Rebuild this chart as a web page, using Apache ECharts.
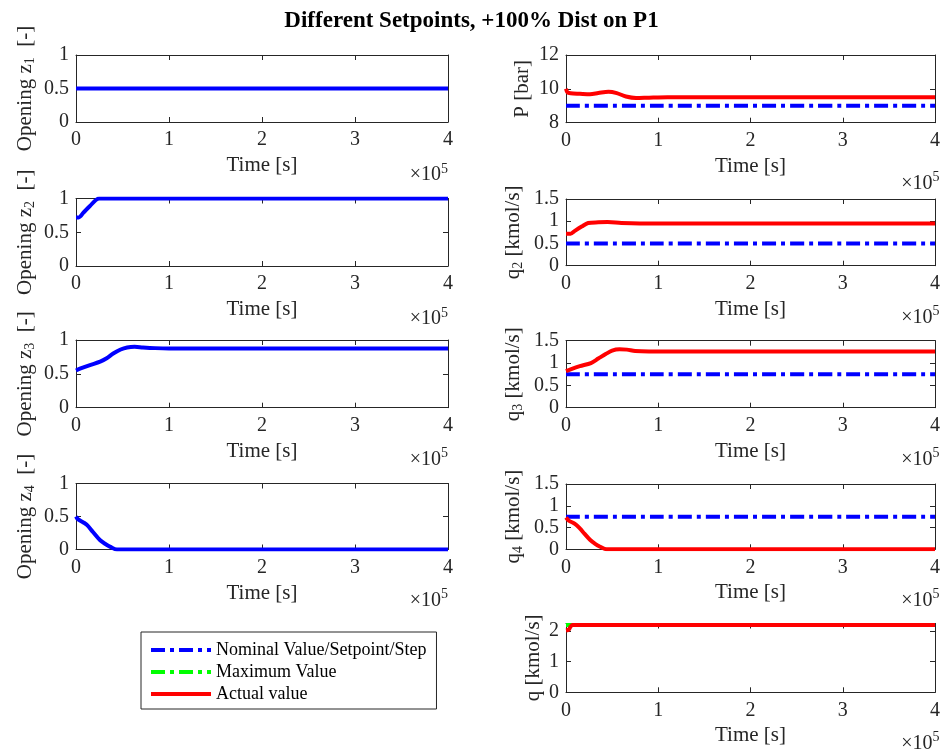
<!DOCTYPE html>
<html>
<head>
<meta charset="utf-8">
<script src="https://cdn.jsdelivr.net/npm/echarts@6/dist/echarts.min.js"></script>
<style>
  html, body { margin: 0; padding: 0; background: #fff; }
  #chart { width: 943px; height: 751px; }
</style>
</head>
<body>
<div id="chart"></div>
<script>
// ---- Data (time in seconds) ----
const timeTickLabels = ['0', '1', '2', '3', '4'];
const tConst = [0, 400000];

// Valve openings
const z1 = [0.5, 0.5];
const tZ2 = [0, 3000, 8000, 15000, 25000, 400000];
const z2 = [0.72, 0.72, 0.79, 0.89, 1.0, 1.0];
const tZ3 = [0, 5000, 15000, 26000, 33000, 40000, 48000, 55000, 63000, 72000, 85000, 100000, 400000];
const z3 = [0.55, 0.58, 0.63, 0.68, 0.73, 0.80, 0.86, 0.89, 0.90, 0.89, 0.88, 0.875, 0.875];
const tZ4 = [0, 2000, 8000, 12000, 18000, 26000, 32000, 37000, 44000, 400000];
const z4 = [0.5, 0.46, 0.41, 0.37, 0.27, 0.14, 0.08, 0.04, 0, 0];

// Pressure
const pNominal = [9, 9];
const tP = [0, 1500, 5000, 15000, 26000, 35000, 46000, 55000, 65000, 76000, 90000, 110000, 400000];
const pActual = [10.0, 9.8, 9.74, 9.71, 9.68, 9.75, 9.83, 9.75, 9.55, 9.46, 9.48, 9.5, 9.5];

// Branch flows
const q2Nominal = [0.5, 0.5];
const tQ2 = [0, 5000, 10000, 17000, 24000, 35000, 45000, 60000, 80000, 400000];
const q2Actual = [0.72, 0.72, 0.79, 0.88, 0.96, 0.975, 0.98, 0.96, 0.95, 0.95];
const q3Nominal = [0.75, 0.75];
const tQ3 = [0, 5000, 15000, 27000, 35000, 43000, 50000, 58000, 66000, 75000, 90000, 400000];
const q3Actual = [0.82, 0.86, 0.93, 1.0, 1.1, 1.2, 1.28, 1.31, 1.3, 1.27, 1.26, 1.26];
const q4Nominal = [0.75, 0.75];
const tQ4 = [0, 3000, 10000, 15000, 20000, 26000, 32000, 37000, 44000, 400000];
const q4Actual = [0.73, 0.66, 0.58, 0.48, 0.36, 0.22, 0.12, 0.06, 0, 0];

// Total flow
const qMaximum = [2.2, 2.2];
const tQ = [0, 3000, 5000, 7000, 400000];
const qActual = [2.02, 2.05, 2.15, 2.2, 2.2];

const legendNames = ['Nominal Value/Setpoint/Step', 'Maximum Value', 'Actual value'];

// ---- Styling ----
const FONT = 'Liberation Serif';
const AX = '#262626';
const BLUE = '#0000ff', GREEN = '#00ff00', RED = '#ff0000';
const DASHDOT = [14, 5, 4, 5];

const pts = (t, v) => t.map((x, i) => [x, v[i]]);

const nameRich = {
  n: { fontFamily: FONT, fontSize: 21, color: AX },
  s: { fontFamily: FONT, fontSize: 14, color: AX, padding: [9, 0, 0, 0] }
};

// Panel layout: grid box, y range, y label
const panels = [
  { box: [76, 55, 372, 67], y: [0, 1, 0.5], name: '{n|Opening z}{s|1}{n|  [-]}', gap: 39, xk: 52,
    series: [{ name: 'z1', data: pts(tConst, z1), color: BLUE }] },
  { box: [76, 198.5, 372, 67.5], y: [0, 1, 0.5], name: '{n|Opening z}{s|2}{n|  [-]}', gap: 39, xk: 52,
    series: [{ name: 'z2', data: pts(tZ2, z2), color: BLUE }] },
  { box: [76, 340, 372, 67.7], y: [0, 1, 0.5], name: '{n|Opening z}{s|3}{n|  [-]}', gap: 39, xk: 51,
    series: [{ name: 'z3', data: pts(tZ3, z3), color: BLUE }] },
  { box: [76, 483.5, 372, 66], y: [0, 1, 0.5], name: '{n|Opening z}{s|4}{n|  [-]}', gap: 39, xk: 50,
    series: [{ name: 'z4', data: pts(tZ4, z4), color: BLUE }] },
  { box: [566, 55, 373.5, 67.7], y: [8, 12, 2], name: '{n|P [bar]}', gap: 33, xk: 60,
    series: [
      { name: legendNames[0], data: pts(tConst, pNominal), color: BLUE, dash: true },
      { name: legendNames[2], data: pts(tP, pActual), color: RED }] },
  { box: [566, 199, 373.5, 66.7], y: [0, 1.5, 0.5], name: '{n|q}{s|2}{n| [kmol/s]}', gap: 41, xk: 51,
    series: [
      { name: legendNames[0], data: pts(tConst, q2Nominal), color: BLUE, dash: true },
      { name: legendNames[2], data: pts(tQ2, q2Actual), color: RED }] },
  { box: [566, 340.7, 373.5, 67], y: [0, 1.5, 0.5], name: '{n|q}{s|3}{n| [kmol/s]}', gap: 41, xk: 51,
    series: [
      { name: legendNames[0], data: pts(tConst, q3Nominal), color: BLUE, dash: true },
      { name: legendNames[2], data: pts(tQ3, q3Actual), color: RED }] },
  { box: [566, 484, 373.5, 65.3], y: [0, 1.5, 0.5], name: '{n|q}{s|4}{n| [kmol/s]}', gap: 41, xk: 50,
    series: [
      { name: legendNames[0], data: pts(tConst, q4Nominal), color: BLUE, dash: true },
      { name: legendNames[2], data: pts(tQ4, q4Actual), color: RED }] },
  { box: [566, 623.5, 373.5, 68.8], y: [0, 2.25, 1], name: '{n|q [kmol/s]}', gap: 22, xk: 50,
    series: [
      { name: legendNames[1], data: pts(tConst, qMaximum), color: GREEN, dash: true },
      { name: legendNames[2], data: pts(tQ, qActual), color: RED }] }
];

const grid = [], xAxis = [], yAxis = [], series = [], graphic = [];
const tickFont = { fontFamily: FONT, fontSize: 20, color: AX };

panels.forEach((p, i) => {
  const [l, t, w, h] = p.box;
  grid.push({ left: l, top: t, width: w, height: h, containLabel: false });
  const line = { show: true, onZero: false, lineStyle: { color: AX, width: 1 } };
  const tick = { show: true, inside: true, length: 5, lineStyle: { color: AX, width: 1 } };
  xAxis.push({
    gridIndex: i, type: 'value', min: 0, max: 400000, interval: 100000,
    axisLine: line, axisTick: tick, splitLine: { show: false },
    axisLabel: Object.assign({ margin: 8, formatter: v => timeTickLabels[Math.round(v / 100000)] }, tickFont),
    name: 'Time [s]', nameLocation: 'middle', nameGap: 33,
    nameTextStyle: { fontFamily: FONT, fontSize: 21, color: AX }
  });
  xAxis.push({
    gridIndex: i, type: 'value', min: 0, max: 400000, interval: 100000, position: 'top',
    axisLine: line, axisTick: tick, axisLabel: { show: false }, splitLine: { show: false }
  });
  yAxis.push({
    gridIndex: i, type: 'value', min: p.y[0], max: p.y[1], interval: p.y[2],
    axisLine: line, axisTick: tick, splitLine: { show: false },
    axisLabel: Object.assign({ margin: 7, showMaxLabel: p.y[1] % p.y[2] === 0 }, tickFont),
    name: p.name, nameLocation: 'middle', nameGap: p.gap, nameRotate: 90,
    nameTextStyle: { rich: nameRich }
  });
  yAxis.push({
    gridIndex: i, type: 'value', min: p.y[0], max: p.y[1], interval: p.y[2], position: 'right',
    axisLine: line, axisTick: tick, axisLabel: { show: false }, splitLine: { show: false }
  });
  p.series.forEach(s => {
    series.push({
      type: 'line', name: s.name, xAxisIndex: 2 * i, yAxisIndex: 2 * i,
      data: s.data, symbol: 'none', smooth: 0.3, color: s.color,
      lineStyle: { width: 4, color: s.color, type: s.dash ? DASHDOT : 'solid' }
    });
  });
  // exponent label under the time axis
  graphic.push({
    type: 'text', right: 943 - (l + w), top: t + h + p.xk - 12,
    style: {
      text: '{a|×10}{b|5}',
      rich: {
        a: { fontFamily: FONT, fontSize: 20, fill: AX },
        b: { fontFamily: FONT, fontSize: 14, fill: AX, padding: [0, 0, 12, 0] }
      }
    }
  });
});

const chart = echarts.init(document.getElementById('chart'), null, { renderer: 'canvas' });
chart.setOption({
  animation: false,
  backgroundColor: '#fff',
  title: {
    text: 'Different Setpoints, +100% Dist on P1', left: 'center', top: 5,
    textStyle: { fontFamily: FONT, fontSize: 23, fontWeight: 'bold', color: '#000' }
  },
  legend: {
    data: legendNames, orient: 'vertical', left: 141, top: 632,
    itemWidth: 60, itemHeight: 18, itemGap: 4, padding: [9, 10, 6, 8],
    borderColor: AX, borderWidth: 1, borderRadius: 0, backgroundColor: '#fff',
    lineStyle: { width: 4 },
    itemStyle: { opacity: 0, borderWidth: 0 },
    textStyle: { fontFamily: FONT, fontSize: 18, color: '#000' },
    selectedMode: false
  },
  grid, xAxis, yAxis, series, graphic
});
</script>
</body>
</html>
